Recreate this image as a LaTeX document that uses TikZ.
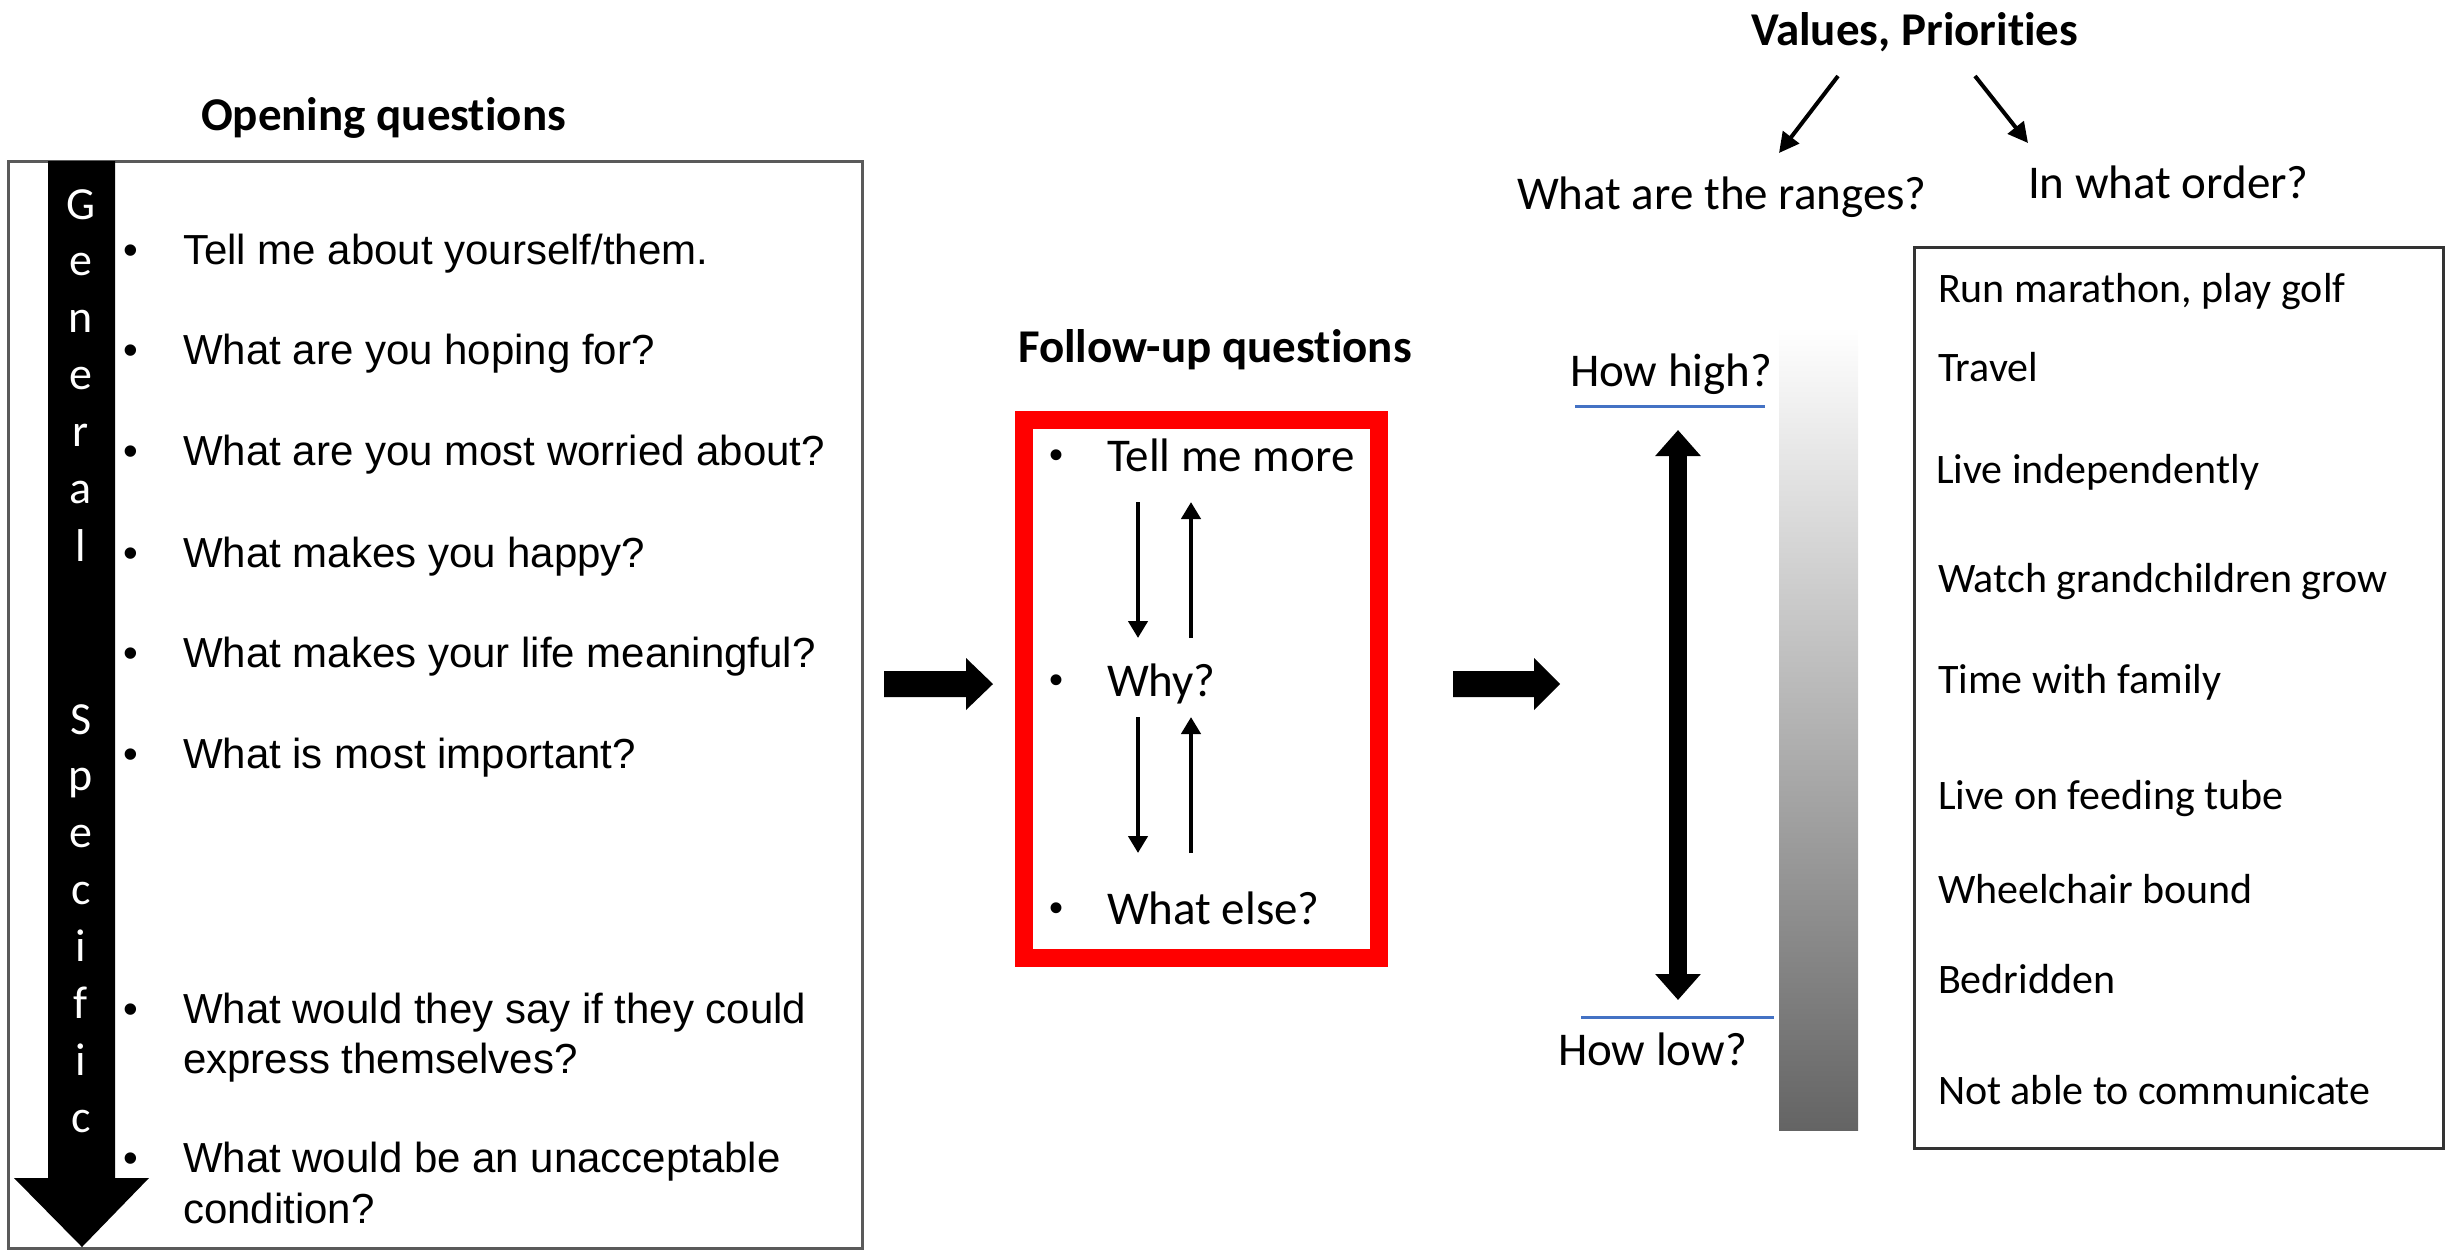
\documentclass[tikz,border=0pt]{standalone}
\usepackage{fontspec}
\setmainfont{Carlito}[Ligatures={NoCommon}]
\newfontfamily\arialf{Liberation Sans}
\usetikzlibrary{arrows.meta}
\definecolor{lineblue}{HTML}{4472C4}
\definecolor{boxgray}{HTML}{5A5A5A}
\definecolor{bargray}{HTML}{646464}
\definecolor{barmid}{HTML}{C8C8C8}
\begin{document}
\begin{tikzpicture}[x=0.5pt,y=-0.5pt,
  every node/.style={inner sep=0pt,outer sep=0pt},
  qtext/.style={anchor=base west,font=\arialf\fontsize{21}{25}\selectfont},
  qbul/.style={anchor=base,font=\arialf\fontsize{21}{25}\selectfont},
  titletext/.style={anchor=base west,font=\bfseries\fontsize{23.5}{28}\selectfont},
  bigtext/.style={anchor=base west,font=\fontsize{23.5}{28}\selectfont},
  bigbul/.style={anchor=base,font=\arialf\fontsize{20}{24}\selectfont},
  itemtext/.style={anchor=base west,font=\fontsize{21}{25}\selectfont},
  vletter/.style={anchor=base,text=white,font=\fontsize{23}{27}\selectfont},
  thinarrow/.style={line width=2.2pt,-{Triangle[width=9.5pt,length=8.5pt]}},
  toparrow/.style={line width=2pt,-{Triangle[width=10pt,length=10pt]}},
  bigarrow/.style={line width=9pt,{Triangle[width=22pt,length=13pt]}-{Triangle[width=22pt,length=13pt]}},
  blockarrow/.style={fill=black},
  blueline/.style={draw=lineblue,line width=1.5pt}]

\useasboundingbox (0,0) rectangle (2447,1250);

% ---------- left box ----------
\node[draw=boxgray,line width=1.5pt,minimum width=427pt,minimum height=543.5pt] (leftbox) at (435,704.5) {};
\fill[black] (48,161) -- (115,161) -- (115,1178) -- (149,1178) -- (82,1247) -- (14,1178) -- (48,1178) -- cycle;
\foreach \l/\y [count=\i] in {G/219,e/275,n/332,e/389,r/446,a/503,l/561}
  \node[vletter] (g\i) at (81,\y) {\l};
\foreach \l/\y [count=\i] in {S/734,p/790,e/847,c/904,i/961,f/1018,i/1075,c/1132}
  \node[vletter] (s\i) at (81,\y) {\l};

\node[titletext] (open) at (201,130) {Opening questions};

\node[qbul] (b1) at (131,264) {•};
\node[qtext] (q1) at (183,264) {Tell me about yourself/them.};
\node[qbul] (b2) at (131,364) {•};
\node[qtext] (q2) at (183,364) {What are you hoping for?};
\node[qbul] (b3) at (131,465) {•};
\node[qtext] (q3) at (183,465) {What are you most worried about?};
\node[qbul] (b4) at (131,567) {•};
\node[qtext] (q4) at (183,567) {What makes you happy?};
\node[qbul] (b5) at (131,667) {•};
\node[qtext] (q5) at (183,667) {What makes your life meaningful?};
\node[qbul] (b6) at (131,768) {•};
\node[qtext] (q6) at (183,768) {What is most important?};
\node[qbul] (b7) at (131,1023) {•};
\node[qtext] (q7a) at (183,1023) {What would they say if they could};
\node[qtext] (q7b) at (183,1073) {express themselves?};
\node[qbul] (b8) at (131,1172) {•};
\node[qtext] (q8a) at (183,1172) {What would be an unacceptable};
\node[qtext] (q8b) at (183,1223) {condition?};

% ---------- block arrows ----------
\fill[blockarrow] (884,671) -- (966,671) -- (966,658) -- (993,684) -- (966,710) -- (966,697) -- (884,697) -- cycle;
\fill[blockarrow] (1453,671) -- (1534,671) -- (1534,658) -- (1560,684) -- (1534,710) -- (1534,697) -- (1453,697) -- cycle;

% ---------- follow-up box ----------
\node[titletext] (follow) at (1018,362) {Follow-up questions};
\node[draw=red,line width=9pt,minimum width=177.5pt,minimum height=269pt] (redbox) at (1201.5,689) {};
\node[bigbul] (fb1) at (1056,468) {•};
\node[bigtext] (tell) at (1107,471) {Tell me more};
\node[bigbul] (fb2) at (1056,693) {•};
\node[bigtext] (why) at (1107,696) {Why?};
\node[bigbul] (fb3) at (1056,921) {•};
\node[bigtext] (else) at (1107,924) {What else?};
\coordinate (d1s) at (1138,502); \coordinate (d1e) at (1138,638);
\coordinate (u1s) at (1191,638); \coordinate (u1e) at (1191,502);
\coordinate (d2s) at (1138,717); \coordinate (d2e) at (1138,853);
\coordinate (u2s) at (1191,853); \coordinate (u2e) at (1191,717);
\draw[thinarrow] (d1s) -- (d1e);
\draw[thinarrow] (u1s) -- (u1e);
\draw[thinarrow] (d2s) -- (d2e);
\draw[thinarrow] (u2s) -- (u2e);

% ---------- values / priorities ----------
\node[titletext] (values) at (1751,45) {Values, Priorities};
\node[bigtext] (ranges) at (1517,209) {What are the ranges?};
\node[bigtext] (order) at (2028,198) {In what order?};
\coordinate (la) at (1838,76); \coordinate (lb) at (1779,153);
\coordinate (ra) at (1975,76); \coordinate (rb) at (2028,143);
\draw[toparrow] (la) -- (lb);
\draw[toparrow] (ra) -- (rb);

% ---------- range scale ----------
\node[bigtext] (high) at (1570,386) {How high?};
\draw[blueline] (1575,406) -- (1765,406);
\coordinate (hi) at (1678,430); \coordinate (lo) at (1678,1000);
\draw[bigarrow] (hi) -- (lo);
\draw[blueline] (1581,1017) -- (1774,1017);
\node[bigtext] (low) at (1558,1065) {How low?};
\shade[top color=white,middle color=barmid,bottom color=bargray] (1779,327) rectangle (1858,1130);

% ---------- right list ----------
\node[draw=black!80,line width=1.5pt,minimum width=264.5pt,minimum height=450.5pt] (rightbox) at (2178.5,697.5) {};
\node[itemtext] (i1) at (1938,302) {Run marathon, play golf};
\node[itemtext] (i2) at (1938,381) {Travel};
\node[itemtext] (i3) at (1936,483) {Live independently};
\node[itemtext] (i4) at (1938,592) {Watch grandchildren grow};
\node[itemtext] (i5) at (1938,693) {Time with family};
\node[itemtext] (i6) at (1938,809) {Live on feeding tube};
\node[itemtext] (i7) at (1938,903) {Wheelchair bound};
\node[itemtext] (i8) at (1938,993) {Bedridden};
\node[itemtext] (i9) at (1938,1104) {Not able to communicate};
\end{tikzpicture}
\end{document}
